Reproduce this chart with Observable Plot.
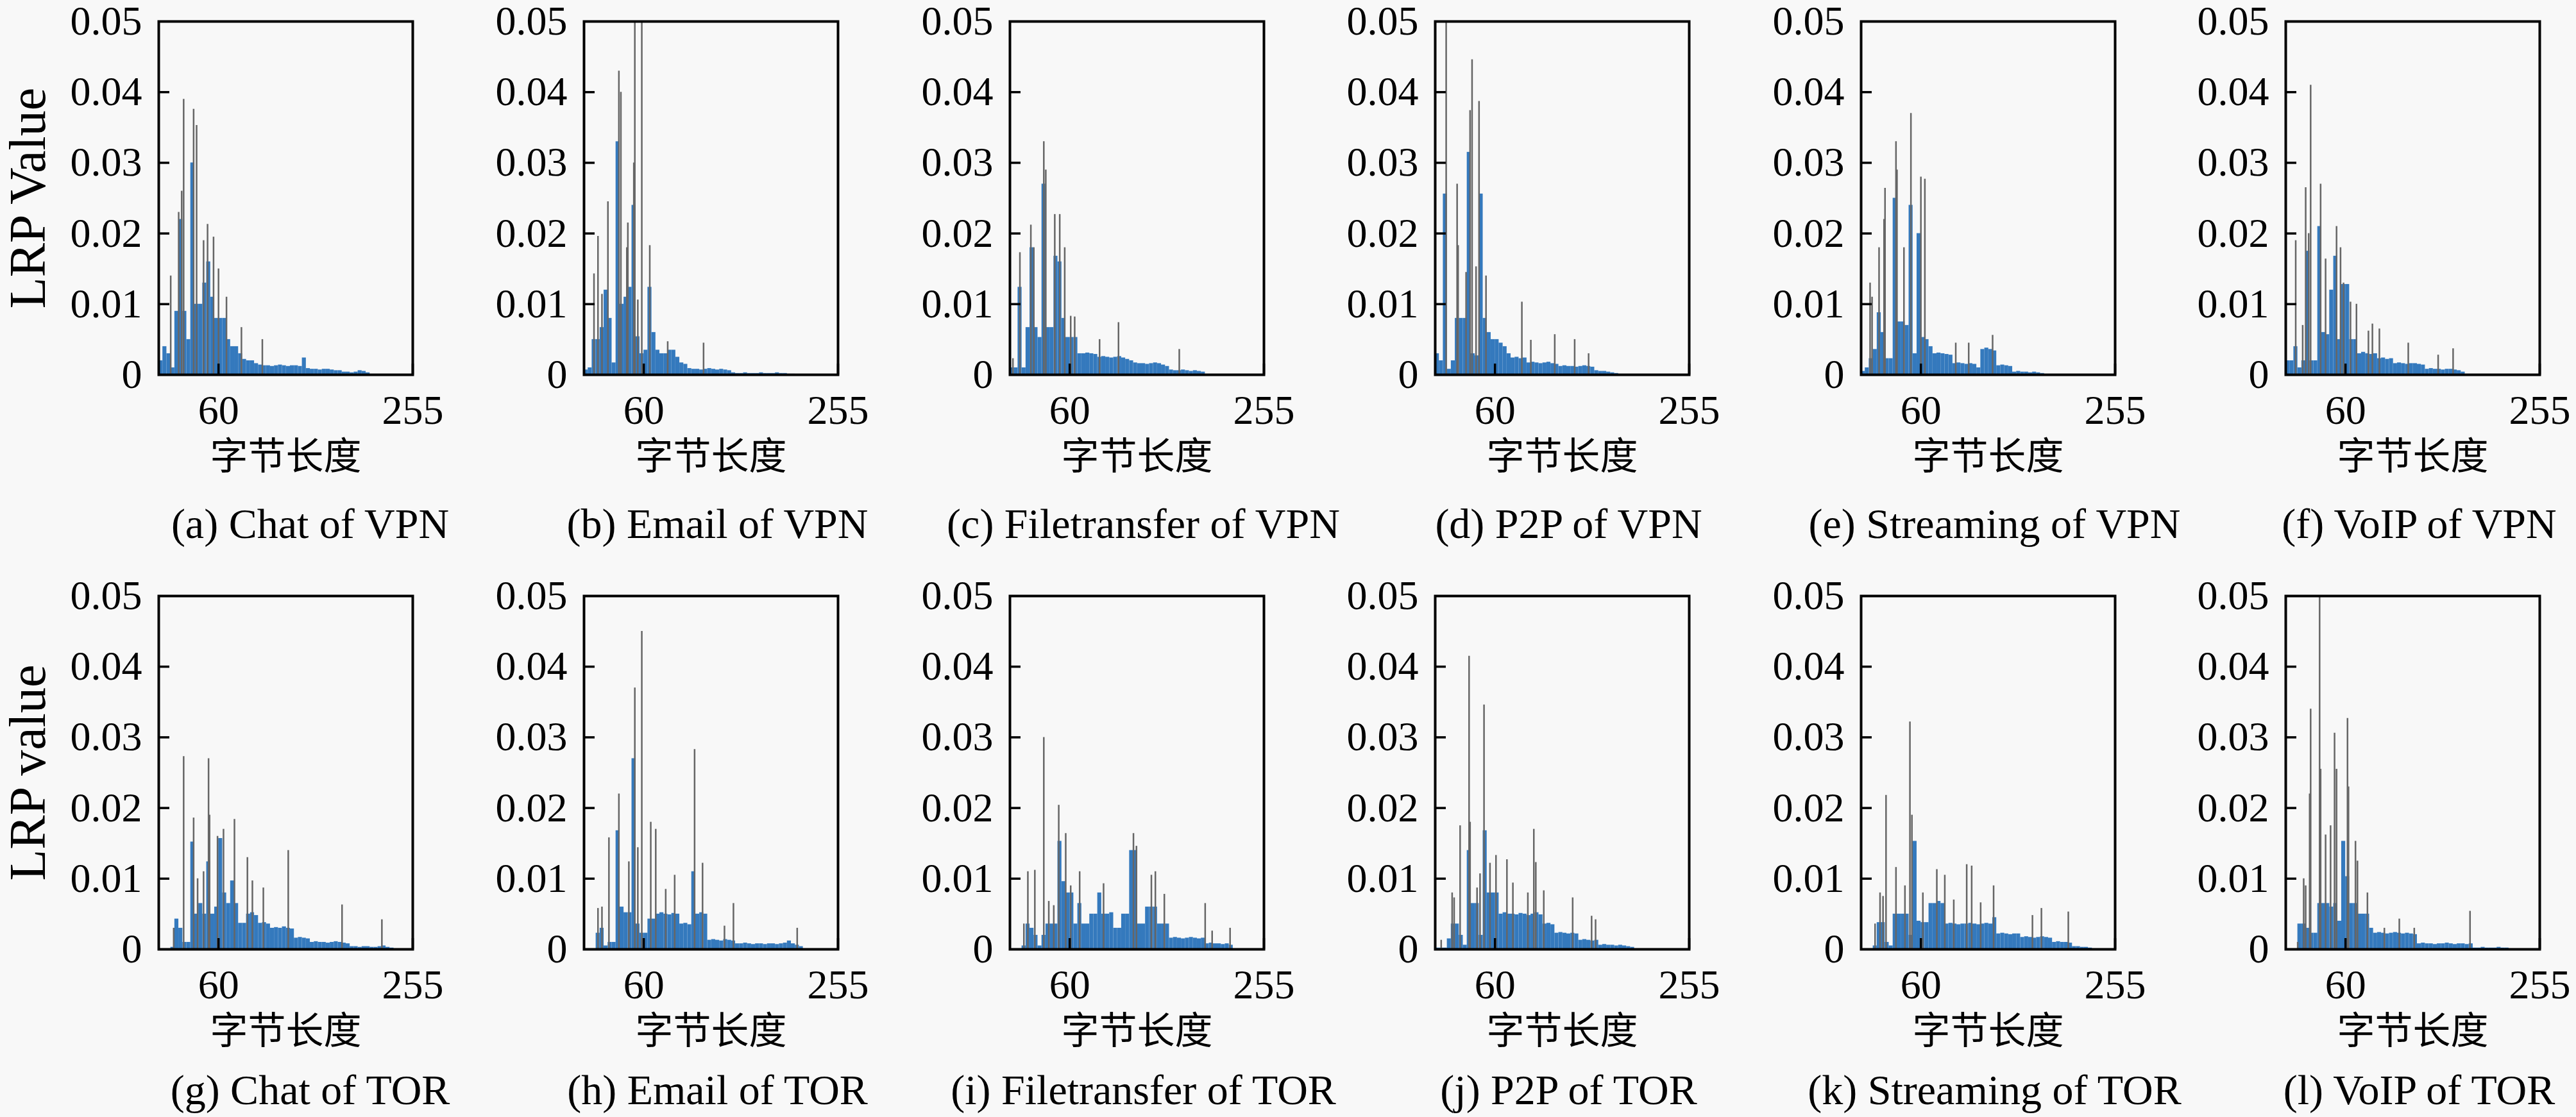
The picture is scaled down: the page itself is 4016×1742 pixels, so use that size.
<!DOCTYPE html>
<html><head><meta charset="utf-8">
<script src="https://cdn.jsdelivr.net/npm/d3@7"></script>
<script src="https://cdn.jsdelivr.net/npm/@observablehq/plot@0.6"></script>
<style>
html,body{margin:0;padding:0;background:#f8f8f8;}
#root{position:relative;width:4016px;height:1742px;overflow:hidden;background:#f8f8f8;}
#root svg{position:absolute;overflow:visible;}
</style></head><body><div id="root"></div>
<script>
// ---- data: LRP value per 4-byte bin (bin i covers bytes 4i..4i+3) ----
const binWidth = 4;
const chatVPN = [0.002,0.004,0.003,0.001,0.009,0.022,0.009,0.005,0.030,0.010,0.010,0.013,0.016,0.011,0.008,0.008,0.008,0.005,0.004,0.004,0.003,0.0022,0.002,0.002,0.0016,0.0014,0.0013,0.0013,0.0012,0.0013,0.0014,0.0013,0.0012,0.0013,0.0013,0.0012,0.0024,0.0009,0.0008,0.0008,0.0007,0.0008,0.0008,0.0007,0.0006,0.0006,0.0004,0.0004,0.0003,0.0004,0.0006,0.0005,0.0003];
const emailVPN = [0.0007,0.001,0.005,0.005,0.0067,0.012,0.008,0.0017,0.033,0.010,0.011,0.0124,0.024,0.0054,0.003,0.0035,0.0124,0.006,0.0035,0.003,0.003,0.0035,0.0035,0.0025,0.0017,0.0015,0.0009,0.0008,0.0008,0.0007,0.0008,0.0009,0.0008,0.0007,0.0008,0.0007,0.0006,0.0003,0.0002,0.0002,0.0003,0.0002,0.0002,0.0002,0.0003,0.0002,0.0002,0.0002,0.0003,0.0002,0.0002,0.0001,0.0001];
const fileVPN = [0.001,0.001,0.0124,0.001,0.0067,0.018,0.0067,0.0053,0.027,0.0067,0.0067,0.0168,0.016,0.008,0.0053,0.0053,0.0053,0.003,0.003,0.0031,0.003,0.0029,0.0025,0.0026,0.0025,0.0024,0.0025,0.0026,0.0024,0.0022,0.002,0.0017,0.0016,0.0016,0.0015,0.0016,0.0017,0.0016,0.0014,0.0012,0.0007,0.0006,0.0006,0.0007,0.0006,0.0005,0.0006,0.0005,0.0004];
const p2pVPN = [0.003,0.002,0.0256,0.0008,0.002,0.008,0.008,0.008,0.0315,0.003,0.0027,0.0256,0.008,0.006,0.005,0.005,0.0045,0.004,0.003,0.0024,0.0025,0.0023,0.0024,0.0017,0.0018,0.0017,0.0016,0.0017,0.0018,0.0016,0.0015,0.0012,0.0013,0.0012,0.0012,0.0011,0.0012,0.0013,0.0012,0.0011,0.0006,0.0005,0.0005,0.0004,0.0003,0.0002];
const streamVPN = [0.0005,0.001,0.0023,0.0036,0.0088,0.006,0.0023,0.0023,0.025,0.0075,0.0075,0.007,0.024,0.003,0.02,0.0053,0.005,0.004,0.003,0.0031,0.003,0.0029,0.0028,0.0016,0.0017,0.0016,0.0015,0.0016,0.0015,0.001,0.0036,0.0038,0.0036,0.0034,0.0013,0.0014,0.0013,0.0012,0.0004,0.0005,0.0004,0.0004,0.0003,0.0004,0.0003,0.0002];
const voipVPN = [0.002,0.002,0.004,0.001,0.002,0.0175,0.002,0.002,0.021,0.006,0.0057,0.012,0.0168,0.005,0.0128,0.0128,0.005,0.005,0.003,0.0032,0.003,0.0029,0.003,0.0023,0.0024,0.0022,0.0023,0.0016,0.0017,0.0016,0.0015,0.0016,0.0016,0.0015,0.0014,0.0008,0.0009,0.0008,0.0008,0.0007,0.0008,0.0008,0.0007,0.0006,0.0004];
const chatTOR = [0,0,0,0.0003,0.0043,0.003,0.001,0.001,0.0152,0.005,0.0065,0.005,0.0124,0.005,0.006,0.0157,0.008,0.0065,0.0097,0.0065,0.0037,0.0037,0.005,0.0052,0.0048,0.0037,0.0038,0.0036,0.003,0.0031,0.003,0.0032,0.003,0.0029,0.0016,0.0017,0.0016,0.0015,0.001,0.0011,0.001,0.001,0.0009,0.001,0.0011,0.001,0.0009,0.0008,0.0004,0.0004,0.0003,0.0004,0.0004,0.0003,0.0003,0.0004,0.0005,0.0003,0.0002];
const emailTOR = [0,0,0,0.0023,0.003,0.0005,0.001,0.001,0.0168,0.006,0.0052,0.0052,0.027,0.0036,0.0023,0.0023,0.0043,0.0043,0.005,0.0052,0.005,0.0049,0.0051,0.005,0.0036,0.0037,0.0035,0.011,0.005,0.0052,0.005,0.0013,0.0014,0.0013,0.0012,0.0014,0.0013,0.0012,0.0008,0.0008,0.0009,0.0008,0.0007,0.0008,0.0008,0.0007,0.0008,0.0008,0.0007,0.0008,0.0009,0.0012,0.0008,0.0006,0.0004];
const fileTOR = [0,0,0,0.0005,0.0036,0.003,0.002,0.0005,0.002,0.0036,0.0036,0.0036,0.0153,0.0096,0.008,0.008,0.0036,0.0065,0.0036,0.0036,0.005,0.005,0.008,0.005,0.005,0.0052,0.003,0.003,0.005,0.005,0.014,0.014,0.0036,0.0036,0.006,0.006,0.006,0.0036,0.0036,0.0036,0.0016,0.0017,0.0016,0.0015,0.0016,0.0017,0.0016,0.0015,0.0016,0.0008,0.0009,0.0008,0.0008,0.0007,0.0008,0.0006];
const p2pTOR = [0.0002,0.0002,0.0002,0.0015,0.0036,0.0036,0.002,0.0006,0.014,0.0065,0.0065,0.002,0.0168,0.008,0.008,0.008,0.005,0.0052,0.005,0.005,0.0049,0.0051,0.005,0.0048,0.005,0.0052,0.0049,0.0036,0.0037,0.0035,0.0023,0.0024,0.0023,0.0022,0.0023,0.0022,0.0013,0.0014,0.0013,0.0012,0.0013,0.0006,0.0007,0.0006,0.0006,0.0005,0.0006,0.0005,0.0004,0.0003];
const streamTOR = [0,0,0,0.0005,0.0038,0.0038,0.001,0.0005,0.005,0.005,0.005,0.005,0.002,0.0153,0.004,0.0038,0.0038,0.0065,0.0065,0.0068,0.0065,0.0036,0.0037,0.0036,0.0035,0.0036,0.0036,0.0037,0.0036,0.0035,0.0036,0.0037,0.0036,0.0045,0.0022,0.0023,0.0022,0.0021,0.0022,0.0022,0.0017,0.0018,0.0017,0.0016,0.0017,0.0018,0.0017,0.0016,0.001,0.0011,0.001,0.001,0.0009,0.0004,0.0004,0.0003,0.0003,0.0002];
const voipTOR = [0,0,0,0.0036,0.0036,0.003,0.0023,0.0023,0.0065,0.0065,0.0065,0.006,0.0065,0.004,0.0153,0.0103,0.0065,0.0065,0.005,0.005,0.005,0.003,0.0023,0.0024,0.0023,0.0022,0.0023,0.0024,0.0023,0.0022,0.0023,0.0022,0.0021,0.0008,0.0009,0.0008,0.0008,0.0007,0.0008,0.0008,0.0009,0.0008,0.0007,0.0008,0.0008,0.0007,0.0008,0.0002,0.0002,0.0003,0.0002,0.0002,0.0002,0.0003,0.0002,0.0002];

// ---- data: tall thin spikes [byte position, LRP value] ----
const chatVPNSpikes = [[12,0.014],[20,0.023],[23,0.026],[25,0.039],[35,0.0376],[38,0.0353],[45,0.019],[49,0.0213],[55,0.0195],[60,0.015],[68,0.011],[83,0.0067],[104,0.005]];
const emailVPNSpikes = [[10,0.0143],[14,0.0196],[18,0.0114],[24,0.0245],[35,0.043],[37,0.040],[43,0.018],[44,0.0215],[50,0.03],[51,0.05],[54,0.0106],[58,0.05],[66,0.0183],[84,0.0047],[120,0.0045]];
const fileVPNSpikes = [[3,0.0023],[10,0.0173],[21,0.0212],[24,0.018],[34,0.033],[36,0.029],[45,0.0227],[50,0.0227],[55,0.018],[61,0.0083],[65,0.0082],[90,0.005],[109,0.0074],[170,0.0036]];
const p2pVPNSpikes = [[11,0.05],[22,0.027],[23,0.0183],[31,0.0145],[35,0.0374],[37,0.0446],[41,0.0153],[44,0.0387],[51,0.014],[87,0.0103],[96,0.0049],[120,0.0057],[140,0.005],[154,0.003]];
const streamVPNSpikes = [[9,0.013],[11,0.011],[18,0.018],[23,0.022],[24,0.0264],[35,0.033],[36,0.029],[43,0.018],[50,0.037],[60,0.028],[64,0.0277],[95,0.0045],[108,0.0045],[132,0.0056]];
const voipVPNSpikes = [[10,0.019],[17,0.007],[20,0.0265],[23,0.02],[25,0.041],[35,0.027],[40,0.0164],[51,0.021],[55,0.018],[58,0.013],[65,0.0103],[71,0.01],[83,0.0062],[87,0.0072],[94,0.0065],[123,0.0045],[153,0.0028],[168,0.0037]];
const chatTORSpikes = [[15,0.003],[25,0.0273],[35,0.0186],[39,0.01],[45,0.011],[50,0.027],[51,0.019],[59,0.016],[65,0.017],[76,0.0184],[89,0.013],[94,0.0097],[105,0.0087],[130,0.014],[184,0.0063],[224,0.0042]];
const emailTORSpikes = [[14,0.0058],[18,0.006],[25,0.0158],[35,0.022],[45,0.0124],[51,0.037],[54,0.0144],[58,0.045],[67,0.018],[72,0.017],[82,0.0085],[91,0.0105],[111,0.0283],[119,0.0122],[141,0.0033],[150,0.0065],[214,0.003]];
const fileTORSpikes = [[14,0.0036],[18,0.011],[25,0.0112],[34,0.03],[39,0.0068],[44,0.0062],[49,0.0204],[56,0.0164],[61,0.009],[70,0.011],[94,0.0093],[124,0.0164],[127,0.0146],[142,0.0105],[146,0.011],[155,0.0078],[196,0.0065],[203,0.0026],[221,0.003]];
const p2pTORSpikes = [[6,0.0013],[17,0.008],[19,0.0073],[25,0.0175],[34,0.0415],[35,0.018],[42,0.0087],[45,0.0107],[49,0.0346],[55,0.0122],[61,0.0133],[72,0.0127],[78,0.0094],[93,0.008],[99,0.017],[101,0.0123],[109,0.0083],[138,0.0073],[157,0.0047],[161,0.0042]];
const streamTORSpikes = [[14,0.0036],[19,0.008],[22,0.0075],[25,0.0218],[35,0.0116],[44,0.009],[49,0.0322],[51,0.019],[62,0.008],[76,0.0113],[84,0.0105],[93,0.007],[106,0.012],[111,0.0118],[120,0.0066],[133,0.009],[172,0.0048],[181,0.0058],[208,0.0053]];
const voipTORSpikes = [[12,0.001],[18,0.01],[20,0.009],[24,0.022],[25,0.034],[34,0.05],[35,0.0255],[40,0.0162],[45,0.0175],[49,0.0306],[51,0.0255],[62,0.0327],[63,0.023],[70,0.0153],[72,0.0125],[82,0.008],[99,0.003],[114,0.0043],[129,0.003],[185,0.0054]];

// ---- labels ----
const captions = ["(a) Chat of VPN","(b) Email of VPN","(c) Filetransfer of VPN","(d) P2P of VPN","(e) Streaming of VPN","(f) VoIP of VPN",
                  "(g) Chat of TOR","(h) Email of TOR","(i) Filetransfer of TOR","(j) P2P of TOR","(k) Streaming of TOR","(l) VoIP of TOR"];
const yLabels = ["LRP Value","LRP value"];
const xLabel = "字节长度";
const yTicks = [0,0.01,0.02,0.03,0.04,0.05];
const yTickLabels = ["0","0.01","0.02","0.03","0.04","0.05"];
const xTicks = [60,255];
const xTickLabels = ["60","255"];
const xDomain = [0,255];
const yDomain = [0,0.05];

const series = [chatVPN,emailVPN,fileVPN,p2pVPN,streamVPN,voipVPN,chatTOR,emailTOR,fileTOR,p2pTOR,streamTOR,voipTOR];
const spikes = [chatVPNSpikes,emailVPNSpikes,fileVPNSpikes,p2pVPNSpikes,streamVPNSpikes,voipVPNSpikes,chatTORSpikes,emailTORSpikes,fileTORSpikes,p2pTORSpikes,streamTORSpikes,voipTORSpikes];

// ---- layout ----
const FRAME_LEFTS = [247,910,1574,2237,2901,3563];
const FRAME_TOPS = [33,929];
const CAPTION_DY = [254,241];
const CAPTION_DX = [38,10,10,10,10,10];
const FW = 396, FH = 551;
const ML = 240, MR = 90, MT = 20, MB = 300;
const BLUE = "#3479bd", GRAY = "#666666";
const SERIF = "'Liberation Serif', 'Times New Roman', serif";
const CJK = "'Noto Sans CJK SC', sans-serif";
const TICK = 17;

const root = document.getElementById("root");
series.forEach((vals, k) => {
  const row = Math.floor(k / 6), col = k % 6;
  const bars = vals.map((v, i) => ({x1: i * binWidth, x2: Math.min((i + 1) * binWidth, xDomain[1]), v}));
  const marks = [
    Plot.rect(bars, {x1: "x1", x2: "x2", y1: 0, y2: "v", fill: BLUE}),
    Plot.ruleX(spikes[k], {x: d => d[0], y1: 0, y2: d => d[1], stroke: GRAY, strokeWidth: 2.5}),
    Plot.ruleY(yTicks.slice(1, -1), {y: d => d, insetRight: FW - TICK, stroke: "black", strokeWidth: 3.5}),
    Plot.ruleX(xTicks, {x: d => d, insetTop: FH - TICK, stroke: "black", strokeWidth: 3.5}),
    Plot.text(yTicks, {y: d => d, text: (d, i) => yTickLabels[i], frameAnchor: "left", dx: -26, textAnchor: "end", fontSize: 64, fontFamily: SERIF, fill: "black"}),
    Plot.text(xTicks, {x: d => d, text: (d, i) => xTickLabels[i], frameAnchor: "bottom", dy: 76, fontSize: 64, fontFamily: SERIF, fill: "black"}),
    Plot.text([xLabel], {text: d => d, frameAnchor: "bottom", dy: 147, fontSize: 59, fontFamily: CJK, fill: "black"}),
    Plot.text([captions[k]], {text: d => d, frameAnchor: "bottom", dx: CAPTION_DX[col], dy: CAPTION_DY[row], fontSize: 66, fontFamily: SERIF, fill: "black"}),
    Plot.frame({stroke: "black", strokeWidth: 4})
  ];
  if (col === 0) {
    marks.push(Plot.text([yLabels[row]], {text: d => d, frameAnchor: "left", textAnchor: "middle", dx: 44 - FRAME_LEFTS[0], rotate: -90, fontSize: 80, fontFamily: SERIF, fill: "black"}));
  }
  const svg = Plot.plot({
    width: ML + FW + MR, height: MT + FH + MB,
    marginLeft: ML, marginRight: MR, marginTop: MT, marginBottom: MB,
    x: {domain: xDomain, axis: null},
    y: {domain: yDomain, axis: null},
    style: {background: "transparent", overflow: "visible"},
    marks
  });
  svg.style.left = (FRAME_LEFTS[col] - ML) + "px";
  svg.style.top = (FRAME_TOPS[row] - MT) + "px";
  root.appendChild(svg);
});
</script>
</body></html>
